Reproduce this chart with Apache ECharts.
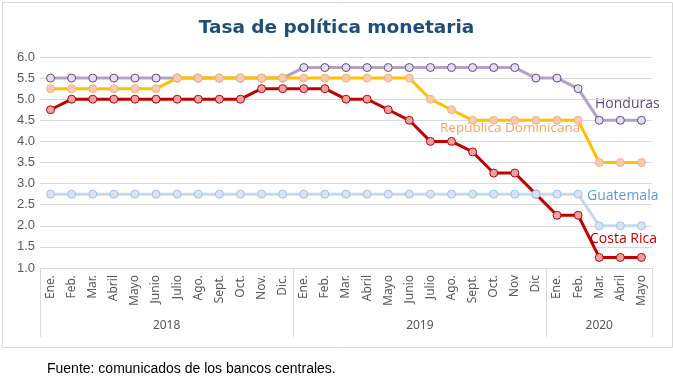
<!DOCTYPE html>
<html><head><meta charset="utf-8">
<script src="https://cdn.jsdelivr.net/npm/echarts@6/dist/echarts.min.js"></script>
<style>html,body{margin:0;padding:0;background:#fff}#c{width:673px;height:380px}</style>
</head><body><div id="c"></div>
<script>
const months = ['Ene.','Feb.','Mar.','Abril','Mayo','Junio','Julio','Ago.','Sept.','Oct.','Nov.','Dic.',
  'Ene.','Feb.','Mar.','Abril','Mayo','Junio','Julio','Ago.','Sept.','Oct.','Nov','Dic',
  'Ene.','Feb.','Mar.','Abril','Mayo'];
const years = ['2018','2019','2020'];
const yearStart = [0, 12, 24, 29];
const honduras = [5.5,5.5,5.5,5.5,5.5,5.5,5.5,5.5,5.5,5.5,5.5,5.5,
  5.75,5.75,5.75,5.75,5.75,5.75,5.75,5.75,5.75,5.75,5.75,5.5,
  5.5,5.25,4.5,4.5,4.5];
const repDom = [5.25,5.25,5.25,5.25,5.25,5.25,5.5,5.5,5.5,5.5,5.5,5.5,
  5.5,5.5,5.5,5.5,5.5,5.5,5.0,4.75,4.5,4.5,4.5,4.5,
  4.5,4.5,3.5,3.5,3.5];
const costaRica = [4.75,5.0,5.0,5.0,5.0,5.0,5.0,5.0,5.0,5.0,5.25,5.25,
  5.25,5.25,5.0,5.0,4.75,4.5,4.0,4.0,3.75,3.25,3.25,2.75,
  2.25,2.25,1.25,1.25,1.25];
const guatemala = [2.75,2.75,2.75,2.75,2.75,2.75,2.75,2.75,2.75,2.75,2.75,2.75,
  2.75,2.75,2.75,2.75,2.75,2.75,2.75,2.75,2.75,2.75,2.75,2.75,
  2.75,2.75,2.0,2.0,2.0];

const chart = echarts.init(document.getElementById('c'), null, {renderer:'canvas'});
const yearCenters = years.map((y,i)=> (yearStart[i]+yearStart[i+1])/2);
function ser(name, data, line, fill, border, z){
  return {name, type:'line', data, z, symbol:'circle', symbolSize:8,
    lineStyle:{color:line, width:3}, itemStyle:{color:fill, borderColor:border, borderWidth:1},
    emphasis:{disabled:true}, animation:false};
}
chart.setOption({
  animation:false,
  title:{text:'Tasa de política monetaria', left:'center', top:14,
    textStyle:{fontFamily:'DejaVu Sans', fontWeight:'bold', fontSize:18.5, color:'#1f4e79'}},
  grid:{left:40, right:21, top:57, bottom:112},
  xAxis:[{type:'category', data:months, boundaryGap:true,
      axisLine:{lineStyle:{color:'#d9d9d9'}}, axisTick:{show:false},
      axisLabel:{rotate:90, interval:0, margin:7, fontSize:12, color:'#595959', fontFamily:'Noto Sans'}},
    {type:'value', min:0, max:29, position:'bottom', splitLine:{show:false},
      axisLine:{show:false},
      axisTick:{show:true, customValues:yearStart, length:69, lineStyle:{color:'#d9d9d9'}},
      axisLabel:{customValues:yearCenters, margin:52, fontSize:12, color:'#595959', fontFamily:'Noto Sans',
        formatter:(v)=>{const i=yearCenters.indexOf(v); return i>=0?years[i]:'';}}}],
  yAxis:{type:'value', min:1, max:6, interval:0.5,
    axisLine:{show:false}, axisTick:{show:false},
    splitLine:{lineStyle:{color:'#d9d9d9'}},
    axisLabel:{formatter:v=>v.toFixed(1), fontSize:13, color:'#595959', margin:5, fontFamily:'Liberation Sans'}},
  series:[
    ser('Honduras', honduras, '#b3a2c7', '#e3dff0', '#5f4b8b', 2),
    ser('Costa Rica', costaRica, '#c00000', '#e8a3a3', '#c00000', 3),
    ser('República Dominicana', repDom, '#ffc000', '#f8cbad', '#f4b183', 4),
    ser('Guatemala', guatemala, '#c6d9f0', '#dae3f3', '#9dc3e6', 5)
  ],
  graphic:[
    {type:'rect', left:0, top:0, shape:{x:0.5,y:0.5,width:670,height:345}, style:{fill:'none', stroke:'#d9d9d9', lineWidth:1}, silent:true},
    {type:'text', left:595, top:97, style:{text:'Honduras', fill:'#604a7b', fontSize:14, fontFamily:'Open Sans'}},
    {type:'text', left:440, top:121, style:{text:'República Dominicana', fill:'#f5a35f', fontSize:13.5, fontFamily:'Open Sans'}},
    {type:'text', left:587, top:189, style:{text:'Guatemala', fill:'#5b9bd5', fontSize:14, fontFamily:'Open Sans'}},
    {type:'text', left:590, top:232, style:{text:'Costa Rica', fill:'#c00000', fontSize:14, fontFamily:'Open Sans'}},
    {type:'text', left:47, top:362, style:{text:'Fuente: comunicados de los bancos centrales.', fill:'#000', fontSize:14, fontFamily:'Liberation Sans'}}
  ]
});
</script></body></html>
